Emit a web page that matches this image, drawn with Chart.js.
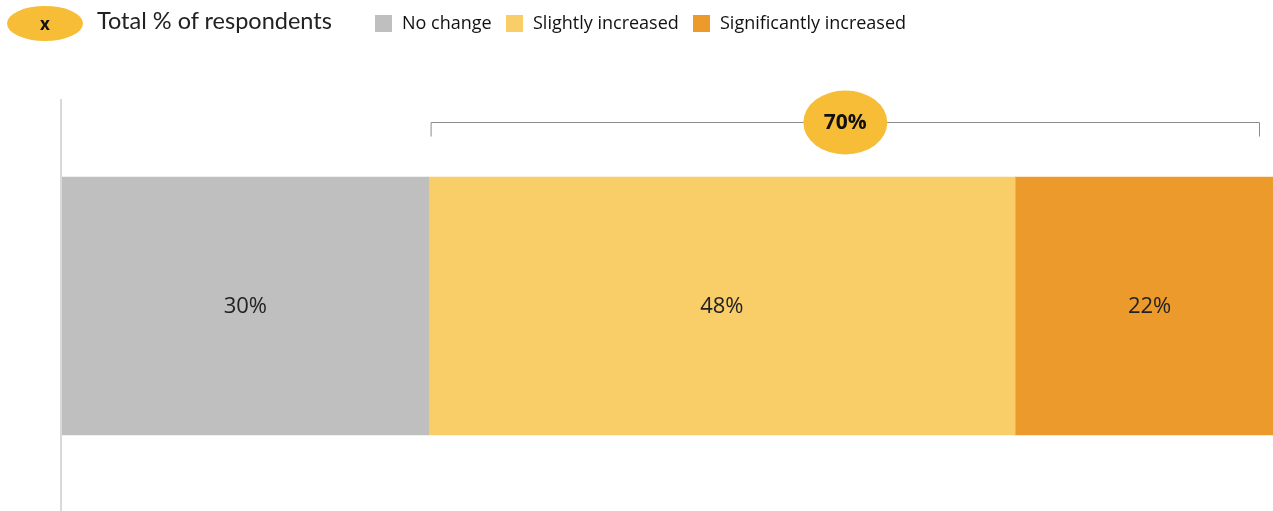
<!DOCTYPE html>
<html lang="en">
<head>
  <meta charset="UTF-8">
  <title>Respondents</title>
  <script src="https://cdn.jsdelivr.net/npm/chart.js"></script>
  <style>
    html, body { margin: 0; padding: 0; background: #fff; }
    .wrap { position: relative; width: 1273px; height: 511px; overflow: hidden; }
    .legend { position: absolute; top: 0; left: 0; width: 100%; height: 50px; font-family: "Open Sans", sans-serif; color: #111; }
    .legend .pill { position: absolute; left: 7px; top: 6px; width: 76px; height: 35px; border-radius: 50%; background: #F7BD36;
      font: bold 17px "Open Sans", sans-serif; text-align: center; line-height: 35px; }
    .legend .total { position: absolute; left: 97px; top: 6px; font: 23.5px Lato, sans-serif; color: #222; }
    .legend .item { position: absolute; top: 11px; font-size: 18px; line-height: 23px; white-space: nowrap; }
    .legend .item i { display: inline-block; width: 17px; height: 17px; vertical-align: -3px; margin-right: 10px; }
    canvas { position: absolute; left: 0; top: 0; }
  </style>
</head>
<body>
<div class="wrap">
  <canvas id="shareChart" width="1273" height="511"></canvas>
  <div class="legend" id="legend">
    <div class="pill">x</div>
    <div class="total">Total % of respondents</div>
  </div>
</div>

<script>
  const categories = ['Total'];
  const seriesNames = ['No change', 'Slightly increased', 'Significantly increased'];
  const seriesValues = [[30], [48], [22]];
  const seriesColors = ['#BFBFBF', '#F9CD67', '#ED9A2D'];
  const legendLeft = [375, 506, 693];

  // legend entries
  const legend = document.getElementById('legend');
  seriesNames.forEach((name, i) => {
    const el = document.createElement('div');
    el.className = 'item';
    el.style.left = legendLeft[i] + 'px';
    el.innerHTML = '<i style="background:' + seriesColors[i] + '"></i>' + name;
    legend.appendChild(el);
  });

  // axis line, segment labels and the bracket over the increased share
  const extras = {
    id: 'extras',
    afterDatasetsDraw(chart) {
      const ctx = chart.ctx;
      const area = chart.chartArea;
      const x = chart.scales.x;

      ctx.save();
      ctx.strokeStyle = '#D9D9D9';
      ctx.lineWidth = 2;
      ctx.beginPath();
      ctx.moveTo(area.left - 1, area.top - 2);
      ctx.lineTo(area.left - 1, area.bottom);
      ctx.stroke();

      // value labels at segment centres
      ctx.fillStyle = '#222';
      ctx.font = '22px "Open Sans", sans-serif';
      ctx.textAlign = 'center';
      ctx.textBaseline = 'middle';
      let acc = 0;
      chart.data.datasets.forEach((ds, i) => {
        const v = ds.data[0];
        const bar = chart.getDatasetMeta(i).data[0];
        ctx.fillText(v + '%', x.getPixelForValue(acc + v / 2), bar.y + 1);
        acc += v;
      });

      // bracket
      const left = x.getPixelForValue(seriesValues[0][0]) + 2.5;
      const right = area.right - 13.5;
      const y = area.top + 21.5;
      ctx.strokeStyle = '#8C8C8C';
      ctx.lineWidth = 1;
      ctx.beginPath();
      ctx.moveTo(left, y + 14);
      ctx.lineTo(left, y);
      ctx.lineTo(right, y);
      ctx.lineTo(right, y + 14);
      ctx.stroke();

      const cx = (left + right) / 2;
      ctx.fillStyle = '#F7BD36';
      ctx.beginPath();
      ctx.ellipse(cx, y, 42, 32, 0, 0, Math.PI * 2);
      ctx.fill();
      ctx.fillStyle = '#111';
      ctx.font = 'bold 21px "Open Sans", sans-serif';
      ctx.fillText((seriesValues[1][0] + seriesValues[2][0]) + '%', cx, y + 1);
      ctx.restore();
    }
  };

  new Chart(document.getElementById('shareChart'), {
    type: 'bar',
    data: {
      labels: categories,
      datasets: seriesNames.map((name, i) => ({
        label: name,
        data: seriesValues[i],
        backgroundColor: seriesColors[i],
        borderWidth: 0,
        barThickness: 258
      }))
    },
    options: {
      indexAxis: 'y',
      responsive: false,
      animation: false,
      layout: { padding: { left: 62, right: 0, top: 101, bottom: 0 } },
      scales: {
        x: { stacked: true, display: false, min: 0, max: 99.1 },
        y: { stacked: true, display: false }
      },
      plugins: {
        legend: { display: false },
        tooltip: { enabled: false }
      }
    },
    plugins: [extras]
  });
</script>
</body>
</html>
